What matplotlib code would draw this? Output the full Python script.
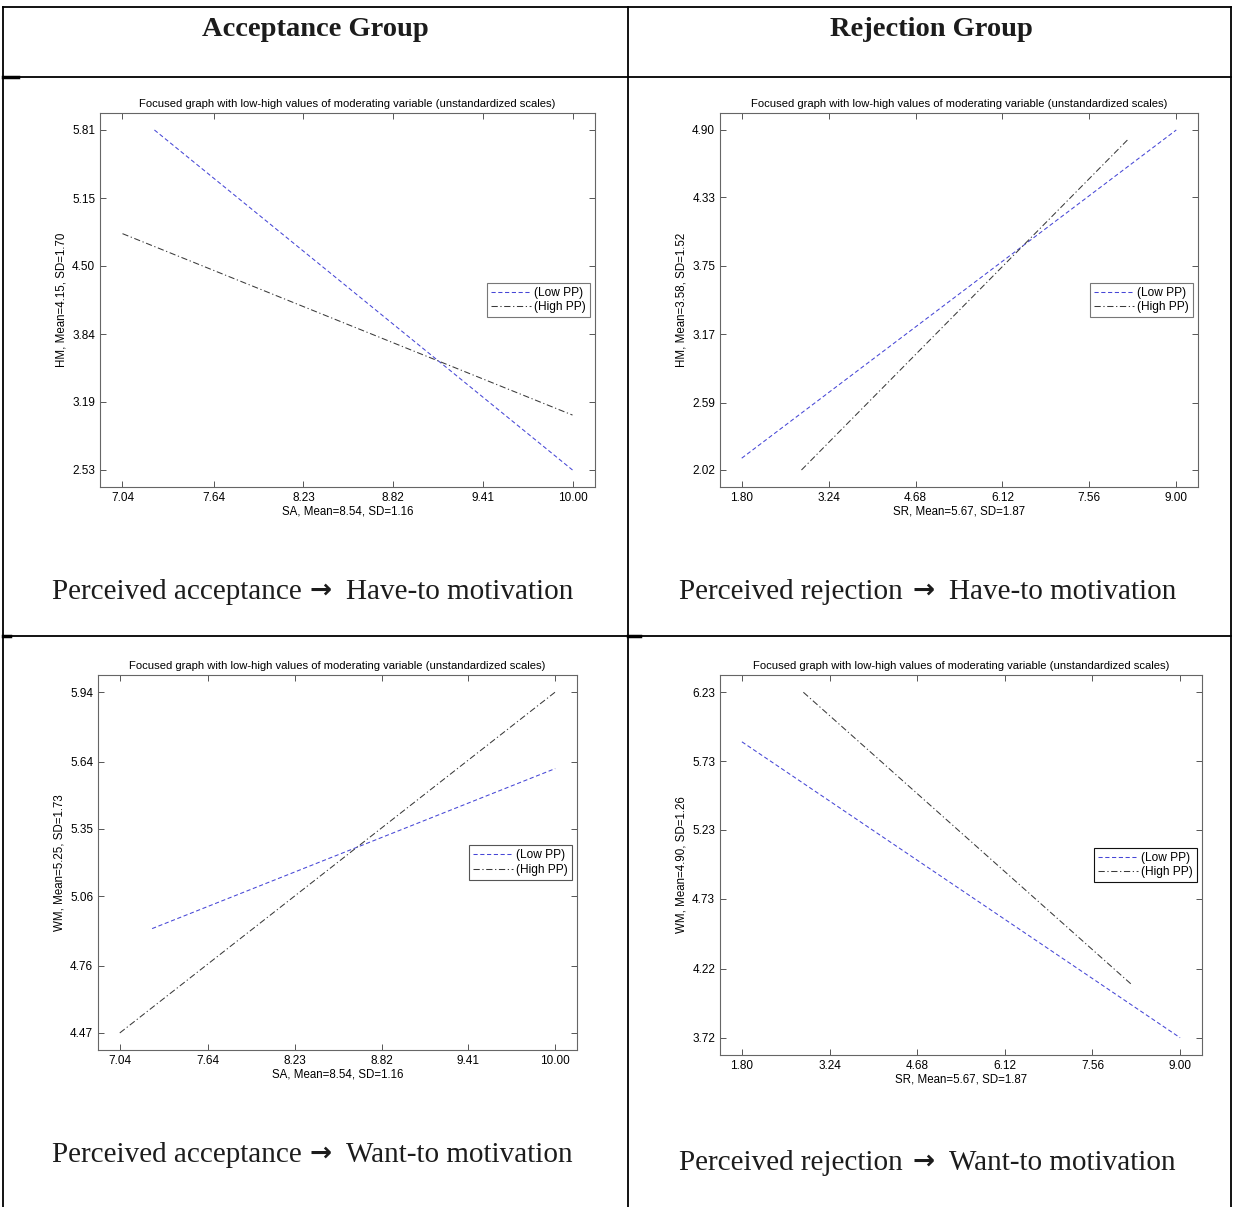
import matplotlib
matplotlib.use("Agg")
import matplotlib.pyplot as plt
from matplotlib.lines import Line2D

W, H = 1234, 1207

# --- data ---
headers = ["Acceptance Group", "Rejection Group"]
cap_left = ["Perceived acceptance", "Perceived rejection",
            "Perceived acceptance", "Perceived rejection"]
cap_right = ["Have-to motivation", "Have-to motivation",
             "Want-to motivation", "Want-to motivation"]
arrow_char = "\u2192"
title_txt = "Focused graph with low-high values of moderating variable (unstandardized scales)"
legend_labels = ["(Low PP)", "(High PP)"]

xlabels = ["SA, Mean=8.54, SD=1.16", "SR, Mean=5.67, SD=1.87",
           "SA, Mean=8.54, SD=1.16", "SR, Mean=5.67, SD=1.87"]
ylabels = ["HM, Mean=4.15, SD=1.70", "HM, Mean=3.58, SD=1.52",
           "WM, Mean=5.25, SD=1.73", "WM, Mean=4.90, SD=1.26"]

sa_ticks = ["7.04", "7.64", "8.23", "8.82", "9.41", "10.00"]
sr_ticks = ["1.80", "3.24", "4.68", "6.12", "7.56", "9.00"]
hm_acc_ticks = ["2.53", "3.19", "3.84", "4.50", "5.15", "5.81"]
hm_rej_ticks = ["2.02", "2.59", "3.17", "3.75", "4.33", "4.90"]
wm_acc_ticks = ["4.47", "4.76", "5.06", "5.35", "5.64", "5.94"]
wm_rej_ticks = ["3.72", "4.22", "4.73", "5.23", "5.73", "6.23"]

# acceptance -> have-to
tl_low_x, tl_low_y = [7.25, 10.00], [5.81, 2.53]
tl_high_x, tl_high_y = [7.04, 10.00], [4.81, 3.06]
# rejection -> have-to
tr_low_x, tr_low_y = [1.80, 9.00], [2.12, 4.90]
tr_high_x, tr_high_y = [2.79, 8.20], [2.02, 4.82]
# acceptance -> want-to
bl_low_x, bl_low_y = [7.26, 10.00], [4.92, 5.61]
bl_high_x, bl_high_y = [7.04, 10.00], [4.47, 5.94]
# rejection -> want-to
br_low_x, br_low_y = [1.80, 9.00], [5.87, 3.72]
br_high_x, br_high_y = [2.81, 8.22], [6.23, 4.10]

# --- figure ---
fig = plt.figure(figsize=(W / 100, H / 100), dpi=100)
fig.patch.set_facecolor("white")

def fx(px):
    return px / W

def fy(py):
    return 1 - py / H

def hline(y, x0, x1, lw=1.3):
    fig.add_artist(Line2D([fx(x0), fx(x1)], [fy(y), fy(y)], color="black", lw=lw))

def vline(x, y0, y1, lw=1.3):
    fig.add_artist(Line2D([fx(x), fx(x)], [fy(y0), fy(y1)], color="black", lw=lw))

# table grid
hline(7, 3, 1231)
hline(77, 3, 1231)
hline(636, 3, 1231)
vline(3, 7, 1207)
vline(628, 7, 1207)
vline(1231, 7, 1207)
# little thick bits where the word cells overlap
hline(77, 3, 18, lw=2.5)
hline(636, 3, 10, lw=2.5)
hline(636, 628, 640, lw=2.5)

serif = ["Liberation Serif", "DejaVu Serif"]
sans = ["Liberation Sans", "DejaVu Sans"]
txtc = "#1c1c1c"

fig.text(fx(315), fy(30), headers[0], ha="center", va="center",
         family=serif, fontsize=20.5, fontweight="bold", color=txtc)
fig.text(fx(931), fy(30), headers[1], ha="center", va="center",
         family=serif, fontsize=20.5, fontweight="bold", color=txtc)

# caption pieces: (left text end, arrow centre, right text start, y)
cap_pos = [(302, 321, 346, 592), (903, 924, 949, 592),
           (302, 321, 346, 1155), (903, 924, 949, 1163)]
for (le, ac, rs, cy), a, b in zip(cap_pos, cap_left, cap_right):
    fig.text(fx(le), fy(cy), a, ha="right", va="center",
             family=serif, fontsize=21, color=txtc)
    fig.text(fx(ac), fy(cy - 1), arrow_char, ha="center", va="center",
             family="DejaVu Sans", fontsize=19, fontweight="bold", color=txtc)
    fig.text(fx(rs), fy(cy), b, ha="left", va="center",
             family=serif, fontsize=21, color=txtc)

# axes boxes in pixels: left, top, right, bottom
boxes = [(100, 113, 595, 487), (720, 113, 1198, 487),
         (98, 675, 577, 1050), (720, 675, 1202, 1055)]

panels = [
    (tl_low_x, tl_low_y, tl_high_x, tl_high_y, sa_ticks, hm_acc_ticks, "#777777"),
    (tr_low_x, tr_low_y, tr_high_x, tr_high_y, sr_ticks, hm_rej_ticks, "#777777"),
    (bl_low_x, bl_low_y, bl_high_x, bl_high_y, sa_ticks, wm_acc_ticks, "#555555"),
    (br_low_x, br_low_y, br_high_x, br_high_y, sr_ticks, wm_rej_ticks, "#111111"),
]

for i, (box, p) in enumerate(zip(boxes, panels)):
    l, t, r, b = box
    ax = fig.add_axes([fx(l), fy(b), (r - l) / W, (b - t) / H])
    lx, ly, hx, hy, xt, yt, legc = p

    ax.plot(lx, ly, color="#4646d6", lw=0.75, linestyle=(0, (4, 2.5)),
            label=legend_labels[0])
    ax.plot(hx, hy, color="#3a3a3a", lw=0.75, linestyle=(0, (6, 2.5, 1.2, 2.5)),
            label=legend_labels[1])

    xv = [float(v) for v in xt]
    yv = [float(v) for v in yt]
    xp = 0.05 * (xv[-1] - xv[0])
    yp = 0.05 * (yv[-1] - yv[0])
    ax.set_xlim(xv[0] - xp, xv[-1] + xp)
    ax.set_ylim(yv[0] - yp, yv[-1] + yp)
    ax.set_xticks(xv)
    ax.set_xticklabels(xt)
    ax.set_yticks(yv)
    ax.set_yticklabels(yt)

    ax.tick_params(direction="in", length=4, width=0.7, color="#555555",
                   top=True, right=True, labelsize=8.5, pad=3.5)
    for lab in ax.get_xticklabels() + ax.get_yticklabels():
        lab.set_family(sans)
    for s in ax.spines.values():
        s.set_color("#666666")
        s.set_linewidth(0.8)

    ax.set_title(title_txt, family=sans, fontsize=8.1, pad=4.5)
    ax.set_xlabel(xlabels[i], family=sans, fontsize=8.3, labelpad=1.2)
    ax.set_ylabel(ylabels[i], family=sans, fontsize=8.3, labelpad=3)

    leg = ax.legend(loc="center right", fancybox=False, framealpha=1,
                    borderaxespad=0.45, borderpad=0.35, labelspacing=0.2,
                    handlelength=3.4, handletextpad=0.2,
                    prop={"family": sans, "size": 8.6})
    leg.get_frame().set_edgecolor(legc)
    leg.get_frame().set_linewidth(0.8)

fig.savefig("out.png", dpi=100, facecolor="white")
